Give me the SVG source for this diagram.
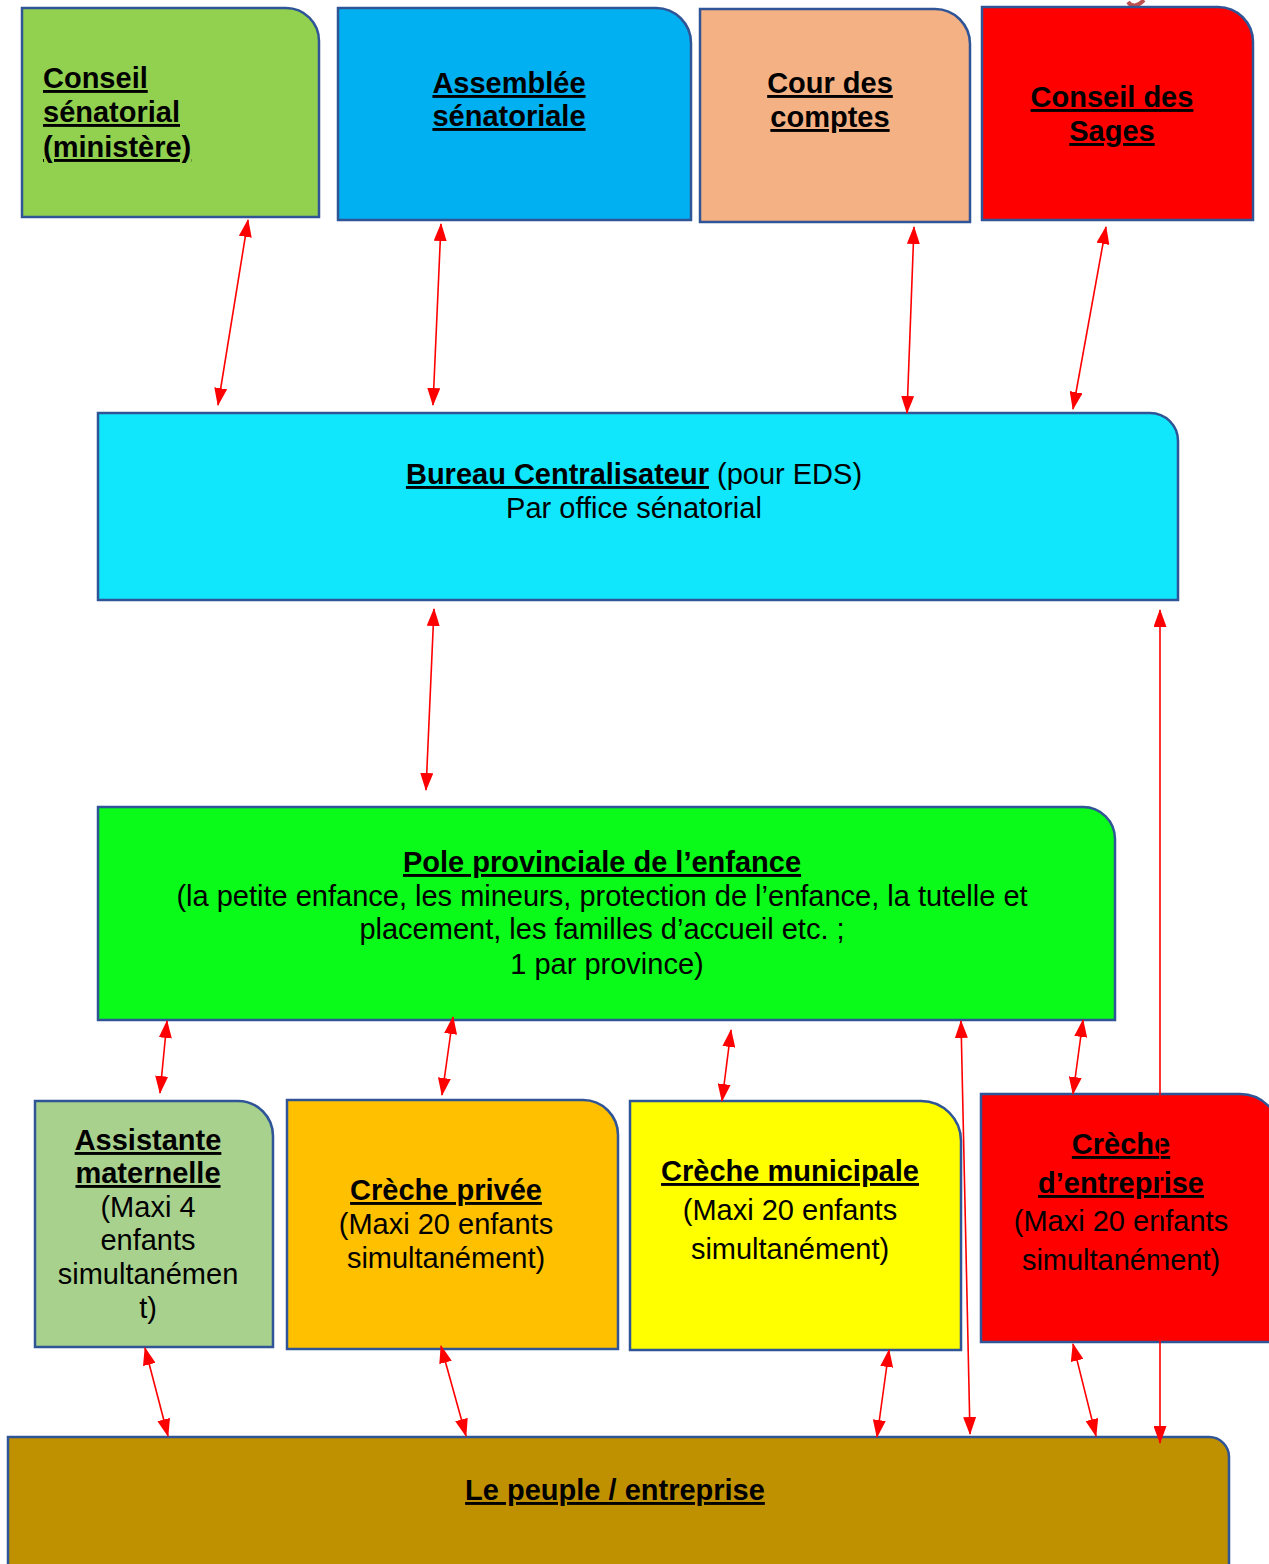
<svg xmlns="http://www.w3.org/2000/svg" width="1269" height="1564" viewBox="0 0 1269 1564">
<defs>
<marker id="ah" viewBox="0 0 18 13" refX="17" refY="6.5" markerWidth="18" markerHeight="13" markerUnits="userSpaceOnUse" orient="auto-start-reverse">
<path d="M0,0 L18,6.5 L0,13 Z" fill="#FF0000"/>
</marker>
<style>
.box{stroke:#2F5597;stroke-width:2.5}
.t{font-family:"Liberation Sans",Arial,sans-serif;font-size:29px;fill:#000}
.b{font-weight:bold;text-decoration:underline}
.c{text-anchor:middle}
.ln{stroke:#FF0000;stroke-width:1.6;fill:none;marker-start:url(#ah);marker-end:url(#ah)}
</style>
</defs>
<rect width="1269" height="1564" fill="#FFFFFF"/>
<path d="M1128,2 q6,8 16,-2" stroke="#C0504D" stroke-width="4" fill="none"/>

<g id="conseil-senatorial">
<path class="box" fill="#92D050" d="M22,8 H286 A33,33 0 0 1 319,41 V217 H22 Z"/>
<text class="t b" x="43" y="88">Conseil</text>
<text class="t b" x="43" y="122">sénatorial</text>
<text class="t b" x="43" y="157">(ministère)</text>
</g>
<g id="assemblee-senatoriale">
<path class="box" fill="#00B0F0" d="M338,8 H656 A35,35 0 0 1 691,43 V220 H338 Z"/>
<text class="t b c" x="509" y="93">Assemblée</text>
<text class="t b c" x="509" y="126">sénatoriale</text>
</g>
<g id="cour-des-comptes">
<path class="box" fill="#F4B183" d="M700,9 H935 A35,35 0 0 1 970,44 V222 H700 Z"/>
<text class="t b c" x="830" y="93">Cour des</text>
<text class="t b c" x="830" y="127">comptes</text>
</g>
<g id="conseil-des-sages">
<path class="box" fill="#FF0000" d="M982,7 H1218 A35,35 0 0 1 1253,42 V220 H982 Z"/>
<text class="t b c" x="1112" y="107">Conseil des</text>
<text class="t b c" x="1112" y="141">Sages</text>
</g>
<g id="bureau-centralisateur">
<path class="box" fill="#10E6FC" d="M98,413 H1150 A28,28 0 0 1 1178,441 V600 H98 Z"/>
<text class="t c" x="634" y="484"><tspan class="b">Bureau Centralisateur</tspan> (pour EDS)</text>
<text class="t c" x="634" y="518">Par office sénatorial</text>
</g>
<g id="pole-provinciale">
<path class="box" fill="#0AFA1A" d="M98,807 H1083 A32,32 0 0 1 1115,839 V1020 H98 Z"/>
<text class="t b c" x="602" y="872">Pole provinciale de l’enfance</text>
<text class="t c" x="602" y="906">(la petite enfance, les mineurs, protection de l’enfance, la tutelle et</text>
<text class="t c" x="602" y="939">placement, les familles d’accueil etc. ;</text>
<text class="t c" x="607" y="974">1 par province)</text>
</g>
<g id="assistante-maternelle">
<path class="box" fill="#A9D18E" d="M35,1101 H238 A35,35 0 0 1 273,1136 V1347 H35 Z"/>
<text class="t b c" x="148" y="1150">Assistante</text>
<text class="t b c" x="148" y="1183">maternelle</text>
<text class="t c" x="148" y="1217">(Maxi 4</text>
<text class="t c" x="148" y="1250">enfants</text>
<text class="t c" x="148" y="1284">simultanémen</text>
<text class="t c" x="148" y="1318">t)</text>
</g>
<g id="creche-privee">
<path class="box" fill="#FFC000" d="M287,1100 H583 A35,35 0 0 1 618,1135 V1349 H287 Z"/>
<text class="t b c" x="446" y="1200">Crèche privée</text>
<text class="t c" x="446" y="1234">(Maxi 20 enfants</text>
<text class="t c" x="446" y="1268">simultanément)</text>
</g>
<g id="creche-municipale">
<path class="box" fill="#FFFF00" d="M630,1101 H921 A40,40 0 0 1 961,1141 V1350 H630 Z"/>
<text class="t b c" x="790" y="1181">Crèche municipale</text>
<text class="t c" x="790" y="1220">(Maxi 20 enfants</text>
<text class="t c" x="790" y="1259">simultanément)</text>
</g>
<g id="creche-entreprise">
<path class="box" fill="#FF0000" d="M981,1094 H1240 A40,40 0 0 1 1280,1134 V1342 H981 Z"/>
<text class="t b c" x="1121" y="1154">Crèche</text>
<text class="t b c" x="1121" y="1193">d’entreprise</text>
<text class="t c" x="1121" y="1231">(Maxi 20 enfants</text>
<text class="t c" x="1121" y="1270">simultanément)</text>
</g>
<g id="le-peuple">
<path class="box" fill="#BF9000" d="M8,1437 H1209 A20,20 0 0 1 1229,1457 V1580 H8 Z"/>
<text class="t b c" x="615" y="1500">Le peuple / entreprise</text>
</g>

<g id="connectors">
<line class="ln" x1="248" y1="220" x2="218" y2="405"/>
<line class="ln" x1="441" y1="224" x2="433" y2="405"/>
<line class="ln" x1="914" y1="227" x2="907" y2="413"/>
<line class="ln" x1="1106" y1="227" x2="1073" y2="409"/>
<line class="ln" x1="434" y1="609" x2="426" y2="790"/>
<line class="ln" x1="167" y1="1021" x2="160" y2="1093"/>
<line class="ln" x1="453" y1="1017" x2="442" y2="1095"/>
<line class="ln" x1="731" y1="1030" x2="722" y2="1101"/>
<line class="ln" x1="961" y1="1021" x2="970" y2="1434"/>
<line class="ln" x1="1083" y1="1020" x2="1073" y2="1094"/>
<line class="ln" x1="1160" y1="610" x2="1160" y2="1443"/>
<line class="ln" x1="145" y1="1348" x2="168" y2="1436"/>
<line class="ln" x1="441" y1="1346" x2="466" y2="1436"/>
<line class="ln" x1="889" y1="1350" x2="877" y2="1437"/>
<line class="ln" x1="1073" y1="1344" x2="1096" y2="1436"/>
</g>
</svg>
